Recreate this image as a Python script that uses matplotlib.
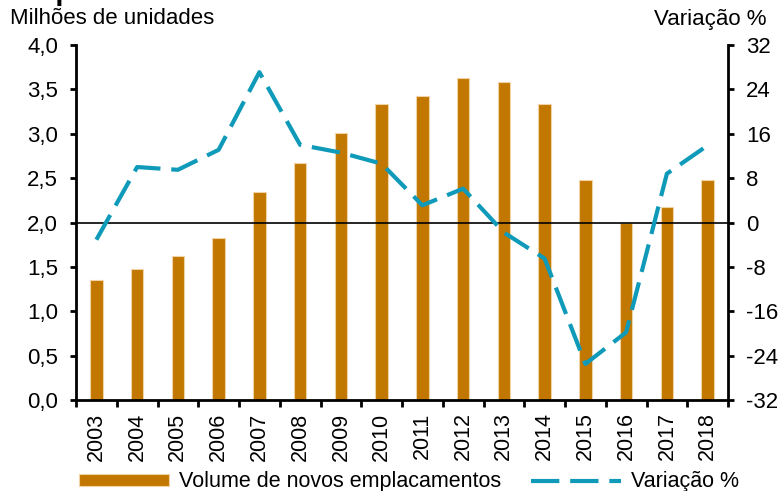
import matplotlib
matplotlib.use("Agg")
import matplotlib.pyplot as plt
import numpy as np

plt.rcParams['font.family'] = ['Liberation Sans', 'DejaVu Sans']

years = ["2003", "2004", "2005", "2006", "2007", "2008", "2009", "2010",
         "2011", "2012", "2013", "2014", "2015", "2016", "2017", "2018"]
volume = [1.35, 1.48, 1.62, 1.83, 2.34, 2.67, 3.01, 3.33,
          3.43, 3.63, 3.58, 3.33, 2.475, 1.99, 2.18, 2.475]
variacao = [-3.1, 10.0, 9.5, 13.1, 27.1, 14.0, 12.6, 10.6,
            3.1, 6.1, -1.8, -6.5, -25.5, -19.8, 8.8, 13.9]
left_ticks = [0.0, 0.5, 1.0, 1.5, 2.0, 2.5, 3.0, 3.5, 4.0]
right_ticks = [-32, -24, -16, -8, 0, 8, 16, 24, 32]

bar_color = "#C27700"
line_color = "#0E9AB8"
fs = 16

fig = plt.figure(figsize=(7.81, 4.91), dpi=100)
ax = fig.add_axes([76/781, 1-400/491, (728-76)/781, (400-45)/491])
ax2 = ax.twinx()

x = np.arange(len(years))
bars = ax.bar(x, volume, width=0.31, color=bar_color, edgecolor="#F2D3A6",
              linewidth=0.8, zorder=2, label="Volume de novos emplacamentos")
ax.set_ylim(0, 4.0)
ax.set_xlim(-0.5, len(years) - 0.5)
ax.set_yticks(left_ticks)
ax.set_yticklabels([f"{v:.1f}".replace(".", ",") for v in left_ticks], fontsize=fs)
ax.set_xticks(x)
ax.set_xticklabels(years, rotation=90, fontsize=15.5)
ax.set_xticks(np.arange(-0.5, len(years)), minor=True)
ax.tick_params(axis='x', which='major', length=0, pad=9)
ax.tick_params(axis='x', which='minor', length=5, width=2, direction='out')
ax.tick_params(axis='y', length=4, width=2, direction='out', pad=9)

ax2.set_ylim(-32, 32)
ax2.set_yticks(right_ticks)
ax2.set_yticklabels([str(v) for v in right_ticks], fontsize=fs)
ax2.tick_params(axis='y', length=4, width=2, direction='out', pad=9)
ax2.axhline(0, color='black', lw=1.2, zorder=1)
line, = ax2.plot(x, variacao, color=line_color, lw=3, dashes=(6.8, 2.6),
                 dash_capstyle='butt', solid_joinstyle='round', zorder=3,
                 label="Variação %")

for a in (ax, ax2):
    a.spines['top'].set_visible(False)
    for s in ('left', 'right', 'bottom'):
        a.spines[s].set_linewidth(2.0)
ax.spines['right'].set_visible(False)
ax2.spines['left'].set_visible(False)
ax2.spines['bottom'].set_visible(False)

fig.text(10/781, 1-19/491, "Milhões de unidades", fontsize=fs, va='center', ha='left')
fig.text(766/781, 1-19/491, "Variação %", fontsize=fs, va='center', ha='right')
fig.text(10/781, 1.0, "Emplacamentos de novos veículos", fontsize=21,
         fontweight='bold', va='baseline', ha='left')

leg = fig.legend([bars, line], ["Volume de novos emplacamentos", "Variação %"],
                 loc='center left', bbox_to_anchor=(70/781, 1-482/491), ncol=2,
                 frameon=False, fontsize=15.5, handlelength=4.2, handleheight=0.5,
                 columnspacing=1.4, handletextpad=0.45, borderaxespad=0)

fig.savefig("out.png", dpi=100)
